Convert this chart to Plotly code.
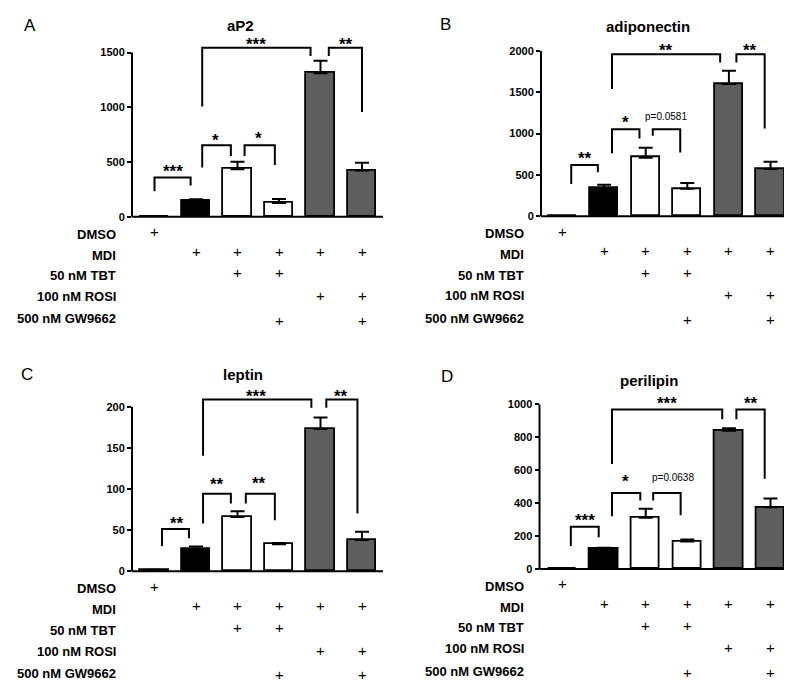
import plotly.graph_objects as go

# ---------------- data ----------------
conditions = ["DMSO", "MDI", "MDI+TBT", "MDI+TBT+GW", "MDI+ROSI", "MDI+ROSI+GW"]
treatments = ["DMSO", "MDI", "50 nM TBT", "100 nM ROSI", "500 nM GW9662"]
treat_plus = [
    [1, 0, 0, 0, 0, 0],
    [0, 1, 1, 1, 1, 1],
    [0, 0, 1, 1, 0, 0],
    [0, 0, 0, 0, 1, 1],
    [0, 0, 0, 1, 0, 1],
]
panel_letters = ["A", "B", "C", "D"]
titles = ["aP2", "adiponectin", "leptin", "perilipin"]
tick_vals = [
    [0, 500, 1000, 1500],
    [0, 500, 1000, 1500, 2000],
    [0, 50, 100, 150, 200],
    [0, 200, 400, 600, 800, 1000],
]
ap2_mean = [0, 148, 434, 127, 1312, 423]
ap2_err = [0, 12, 70, 36, 113, 72]
adipo_mean = [0, 340, 708, 332, 1600, 572]
adipo_err = [0, 40, 120, 68, 160, 88]
leptin_mean = [1.5, 27, 66, 33, 173, 38]
leptin_err = [0.5, 3, 7, 1.5, 14, 10]
peri_mean = [3, 122, 311, 167, 840, 375]
peri_err = [0, 8, 55, 12, 15, 53]
means = [ap2_mean, adipo_mean, leptin_mean, peri_mean]
errs = [ap2_err, adipo_err, leptin_err, peri_err]

# significance brackets: (x_left, x_right, y_top, y_left_bottom, y_right_bottom, label, label_x, label_y)
sig_a = [
    (0.00, 0.87, 359, 233, 287, "***", 0.45, 450),
    (1.15, 1.84, 655, 450, 556, "*", 1.48, 731),
    (2.17, 2.90, 655, 556, 474, "*", 2.51, 749),
    (1.15, 3.76, 1545, 1008, 1470, "***", 2.45, 1609),
    (4.20, 5.00, 1545, 1470, 957, "**", 4.61, 1609),
]
sig_b = [
    (0.21, 0.85, 620, 388, 532, "**", 0.53, 748),
    (1.19, 1.85, 1052, 760, 940, "*", 1.52, 1180),
    (2.17, 2.83, 1052, 972, 772, "p=0.0581", 2.49, 1208),
    (1.19, 3.79, 1960, 1540, 1860, "**", 2.49, 2048),
    (4.18, 4.86, 1960, 1860, 1060, "**", 4.51, 2048),
]
sig_c = [
    (0.18, 0.83, 51.3, 30.8, 40.1, "**", 0.53, 63),
    (1.17, 1.84, 94.3, 58.2, 82.3, "**", 1.51, 110.4),
    (2.20, 2.90, 94.3, 82.3, 62.2, "**", 2.53, 111.2),
    (1.17, 3.78, 208.8, 140.5, 198.8, "***", 2.45, 216.9),
    (4.14, 4.89, 208.8, 198.8, 70.2, "**", 4.50, 217.2),
]
sig_d = [
    (0.20, 0.87, 257, 140, 193, "***", 0.54, 321),
    (1.19, 1.87, 462, 321, 417, "*", 1.51, 554),
    (2.18, 2.84, 462, 417, 327, "p=0.0638", 2.66, 558),
    (1.19, 3.84, 970, 639, 910, "***", 2.50, 1030),
    (4.18, 4.86, 970, 910, 548, "**", 4.53, 1030),
]
sigs = [sig_a, sig_b, sig_c, sig_d]

# ---------------- layout (pixels) ----------------
W, H = 792, 682
FONT = "Liberation Sans, Arial, sans-serif"
GRAY = "#5e5e5e"
bar_colors = ["white", "black", "white", "white", GRAY, GRAY]
# axis box: left px, right px, y=0 px, top tick px, first bar centre px, bar spacing px
boxes = [
    dict(x0=124, x1=375, y0=210.7, yt=45, c0=146.5, sp=41.5, lab=110, tx=232, ty=18, lx=22, ly=18),
    dict(x0=533, x1=780, y0=210, yt=43.3, c0=554.5, sp=41.6, lab=518, tx=640, ty=18.5, lx=438, ly=17),
    dict(x0=124, x1=375, y0=568.3, yt=402.3, c0=146.5, sp=41.5, lab=110, tx=235, ty=370, lx=19, ly=370),
    dict(x0=531.5, x1=780, y0=566, yt=400, c0=554.5, sp=41.6, lab=518, tx=641, ty=376, lx=439, ly=372),
]
label_off = [17.5, 38.5, 59.5, 80.5, 103]
plus_off = [15, 34.5, 56.5, 79.5, 104.5]

fig = go.Figure()
shapes = []
annotations = []

for i in range(4):
    b = boxes[i]
    n = "" if i == 0 else str(i + 1)
    xa, ya = "x" + n, "y" + n
    top_px = b["yt"] - 28
    tmax = tick_vals[i][-1]
    ymax = tmax * (b["y0"] - top_px) / (b["y0"] - b["yt"])
    xr = [(b["x0"] - b["c0"]) / b["sp"], (b["x1"] - b["c0"]) / b["sp"]]

    fig.add_trace(go.Bar(
        x=list(range(len(conditions))), y=means[i],
        width=0.68,
        marker=dict(color=bar_colors, line=dict(color="black", width=1.8)),
        error_y=dict(type="data", array=errs[i], arrayminus=[0] * len(errs[i]),
                     symmetric=False, color="black", thickness=2, width=7),
        xaxis=xa, yaxis=ya, showlegend=False, hoverinfo="skip",
    ))

    fig.layout["xaxis" + n] = dict(
        domain=[b["x0"] / W, b["x1"] / W], range=xr, anchor=ya,
        showline=False, showticklabels=False, ticks="", showgrid=False, zeroline=False,
        fixedrange=True,
    )
    fig.layout["yaxis" + n] = dict(
        domain=[1 - b["y0"] / H, 1 - top_px / H], range=[0, ymax], anchor=xa,
        tickmode="array", tickvals=tick_vals[i], ticks="outside", ticklen=4, tickwidth=2,
        tickcolor="black", showline=False, showgrid=False, zeroline=False,
        tickfont=dict(family=FONT, size=11, color="black", weight="bold"), fixedrange=True,
    )
    # axis lines: y from 0 to top tick, x along y = 0
    shapes.append(dict(type="line", xref=xa + " domain", yref=ya + " domain",
                       x0=0, x1=0, y0=0, y1=tmax / ymax, layer="above",
                       line=dict(color="black", width=2)))
    shapes.append(dict(type="line", xref=xa + " domain", yref=ya + " domain",
                       x0=0, x1=1, y0=0, y1=0, layer="above",
                       line=dict(color="black", width=2)))

    # brackets
    for (xl, xrr, yt, ylb, yrb, lab, lx, ly) in sigs[i]:
        shapes.append(dict(type="path", xref=xa, yref=ya,
                           path=f"M {xl},{ylb} L {xl},{yt} L {xrr},{yt} L {xrr},{yrb}",
                           line=dict(color="black", width=2)))
        if lab.startswith("p"):
            annotations.append(dict(xref=xa, yref=ya, x=lx, y=ly, text=lab, showarrow=False,
                                    font=dict(family=FONT, size=10, color="black")))
        else:
            annotations.append(dict(xref=xa, yref=ya, x=lx, y=ly, text=lab, showarrow=False,
                                    yshift=-4,
                                    font=dict(family=FONT, size=17, color="black", weight="bold")))

    # title & panel letter
    annotations.append(dict(xref="paper", yref="paper", x=b["tx"] / W, y=1 - b["ty"] / H,
                            text=titles[i], showarrow=False, xanchor="center", yanchor="middle",
                            font=dict(family=FONT, size=15, color="black", weight="bold")))
    annotations.append(dict(xref="paper", yref="paper", x=b["lx"] / W, y=1 - b["ly"] / H,
                            text=panel_letters[i], showarrow=False, xanchor="center", yanchor="middle",
                            font=dict(family=FONT, size=17, color="black")))

    # treatment table
    for r, tname in enumerate(treatments):
        annotations.append(dict(xref="paper", yref="paper", x=b["lab"] / W,
                                y=1 - (b["y0"] + label_off[r]) / H,
                                text=tname, showarrow=False, xanchor="right", yanchor="middle",
                                font=dict(family=FONT, size=13, color="black", weight="bold")))
        for c, flag in enumerate(treat_plus[r]):
            if flag:
                annotations.append(dict(xref=xa, yref="paper", x=c,
                                        y=1 - (b["y0"] + plus_off[r]) / H,
                                        text="+", showarrow=False, xanchor="center", yanchor="middle",
                                        font=dict(family=FONT, size=15, color="black")))

fig.update_layout(
    width=W, height=H, margin=dict(l=0, r=0, t=0, b=0),
    paper_bgcolor="white", plot_bgcolor="white",
    shapes=shapes, annotations=annotations, bargap=0,
)
fig.write_html("out.html")
